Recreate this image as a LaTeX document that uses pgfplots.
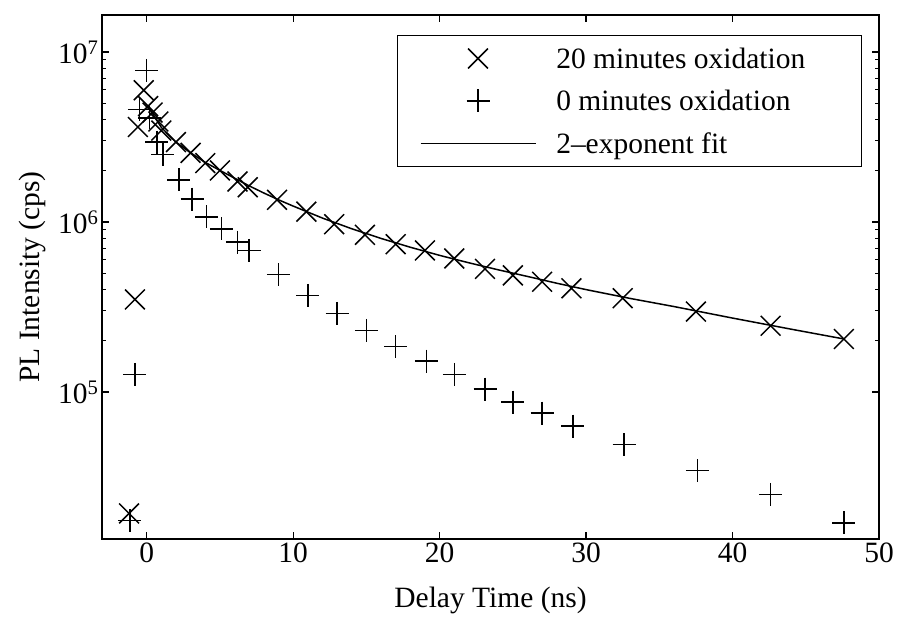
\documentclass[border=0pt]{standalone}
\usepackage{fontspec}
\setmainfont{Liberation Serif}
\usepackage{pgfplots}
\pgfplotsset{compat=1.18}
\pgfplotsset{
  legmark/.style={legend image code/.code={\draw[mark repeat=2,mark phase=2,##1] plot coordinates {(0bp,0bp) (57.5bp,0bp) (115bp,0bp)};}},
  legline/.style={legend image code/.code={\draw[##1] (0bp,0bp) -- (115bp,0bp);}},
}
\begin{document}
\begin{tikzpicture}
\begin{axis}[
  scale only axis, width=777bp, height=524bp,
  xmin=-3.05, xmax=50,
  ymode=log, ymin=1.365e4, ymax=1.65e7,
  xtick={0,10,20,30,40,50}, xticklabels={0,10,20,30,40,50},
  ytick={1e5,1e6,1e7}, yticklabels={10\textsuperscript{5},10\textsuperscript{6},10\textsuperscript{7}},
  tick pos=both, tick align=inside,
  major tick length=7bp, minor tick length=4bp,
  every tick/.style={black, line width=1.2bp},
  axis line style={line width=1.4bp},
  tick label style={font=\fontsize{29.6}{34}\selectfont},
  label style={font=\fontsize{29.6}{34}\selectfont},
  xlabel={Delay Time (ns)}, ylabel={PL Intensity (cps)},
  xlabel style={at={(axis description cs:0.5,-0.1164)}, anchor=center},
  ylabel style={at={(axis description cs:-0.089,0.5)}, anchor=center},
  legend style={at={(axis description cs:0.978,0.962)}, anchor=north east,
    draw=black, line width=1.3bp, font=\fontsize{29.6}{34}\selectfont,
    inner xsep=22bp, inner ysep=12bp, row sep=20bp, column sep=20bp,
    nodes={inner sep=0bp}, cells={anchor=west}},
]
\addplot[only marks, mark=x, mark size=14bp, line width=1.5bp, legmark]
coordinates {
(-1.2,1.93e4) (-0.8,3.5e5) (-0.6,3.62e6) (-0.2,5.95e6) (0.1,4.8e6) (0.4,4.4e6) (0.8,3.9e6)
(1.0,3.45e6) (2.0,2.95e6) (3.0,2.55e6) (4.0,2.22e6) (5.0,2.01e6) (6.2,1.73e6) (6.9,1.6e6)
(8.9,1.35e6) (10.9,1.15e6) (12.8,9.7e5) (14.9,8.4e5) (17.0,7.4e5) (19.0,6.8e5)
(21.0,6.1e5) (23.1,5.3e5) (25.0,4.85e5) (27.0,4.45e5) (29.0,4.07e5) (32.5,3.56e5)
(37.5,2.97e5) (42.6,2.45e5) (47.6,2.05e5)
};
\addlegendentry{\makebox[283bp][l]{20 minutes oxidation}}
\addplot[only marks, mark=+, mark size=11.5bp, line width=1.5bp, legmark]
coordinates {
(-1.15,1.75e4) (-0.8,1.27e5) (-0.5,4.6e6) (0.0,7.8e6) (0.2,4.1e6) (0.7,2.95e6) (1.1,2.5e6)
(2.2,1.77e6) (3.1,1.36e6) (4.1,1.07e6) (5.1,9.1e5) (6.2,7.6e5) (7.0,6.8e5)
(9.0,4.9e5) (11.0,3.7e5) (13.0,2.9e5) (15.0,2.3e5) (17.0,1.85e5) (19.1,1.52e5)
(21.0,1.27e5) (23.1,1.04e5) (25.0,8.7e4) (27.0,7.5e4) (29.1,6.3e4) (32.6,4.9e4)
(37.6,3.45e4) (42.6,2.5e4) (47.6,1.7e4)
};
\addlegendentry{\makebox[283bp][l]{0 minutes oxidation}}
\addplot[black, line width=1.5bp, no marks, legline]
coordinates {
(0.1,4.8e6) (0.5,4.2e6) (1.0,3.6e6) (1.5,3.25e6) (2.0,2.95e6) (3.0,2.55e6) (4.0,2.24e6)
(5.0,2.01e6) (6.0,1.81e6) (7.0,1.63e6) (8.0,1.48e6) (9.0,1.35e6) (10.0,1.24e6)
(12.0,1.054e6) (14.0,9.12e5) (16.0,8.0e5) (18.0,7.1e5) (20.0,6.36e5) (22.0,5.75e5)
(24.0,5.23e5) (26.0,4.78e5) (28.0,4.36e5) (30.0,4.0e5) (33.0,3.55e5) (36.0,3.18e5)
(40.0,2.72e5) (44.0,2.34e5) (47.6,2.05e5)
};
\addlegendentry{\makebox[283bp][l]{2\textendash exponent fit}}
\end{axis}
\pgfresetboundingbox
\path ([shift={(-102bp,-89bp)}]current axis.south west) rectangle ([shift={(20bp,15bp)}]current axis.north east);
\end{tikzpicture}
\end{document}
